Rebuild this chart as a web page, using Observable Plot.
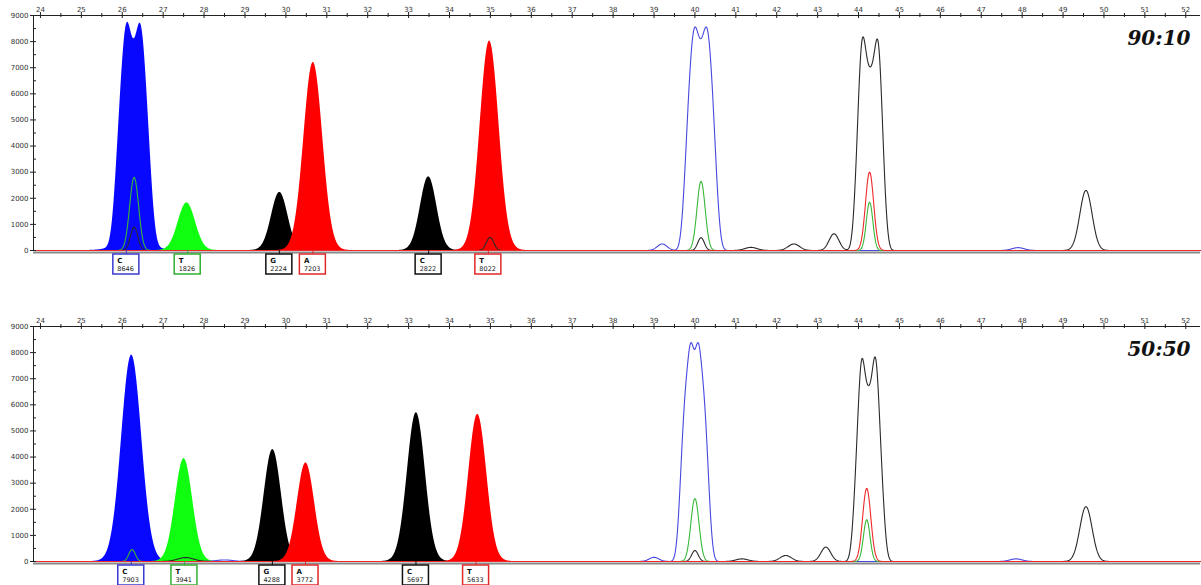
<!DOCTYPE html>
<html><head><meta charset="utf-8">
<script src="https://cdn.jsdelivr.net/npm/d3@7"></script>
<script src="https://cdn.jsdelivr.net/npm/@observablehq/plot@0.6"></script>
<style>
body{margin:0;background:#fff;}
#chart svg{display:block;}
</style>
</head><body><div id="chart"></div>
<script>
// ---- data ----
const xTicks = [24,25,26,27,28,29,30,31,32,33,34,35,36,37,38,39,40,41,42,43,44,45,46,47,48,49,50,51,52];
const yTicks = [0,1000,2000,3000,4000,5000,6000,7000,8000,9000];
const panelLabels = ["90:10", "50:50"];

// peak components: [channel, position, height, width, shape power, filled]
const peaks9010 = [
  ["blue", 26.28, 7000, 0.37, 4, 1],
  ["blue", 26.28, 500, 0.35, 2, 1],
  ["blue", 26.11, 1400, 0.10, 2, 1],
  ["blue", 26.46, 1400, 0.10, 2, 1],
  ["green", 27.58, 1826, 0.21, 2, 1],
  ["black", 29.85, 2224, 0.20, 2, 1],
  ["red", 30.67, 7203, 0.23, 2, 1],
  ["black", 33.49, 2822, 0.20, 2, 1],
  ["red", 34.98, 8022, 0.23, 2, 1],
  ["green", 26.29, 2800, 0.11, 2, 0],
  ["black", 26.29, 900, 0.09, 2, 0],
  ["black", 34.99, 500, 0.09, 2, 0],
  ["blue", 39.2, 250, 0.12, 2, 0],
  ["blue", 40.14, 7700, 0.33, 4, 0],
  ["blue", 39.98, 1000, 0.09, 2, 0],
  ["blue", 40.30, 1000, 0.09, 2, 0],
  ["green", 40.15, 2650, 0.10, 2, 0],
  ["black", 40.15, 490, 0.08, 2, 0],
  ["black", 41.37, 120, 0.15, 2, 0],
  ["black", 42.42, 250, 0.14, 2, 0],
  ["black", 43.4, 640, 0.12, 2, 0],
  ["black", 44.28, 6900, 0.30, 4, 0],
  ["black", 44.08, 1750, 0.08, 2, 0],
  ["black", 44.49, 1750, 0.08, 2, 0],
  ["red", 44.27, 3000, 0.10, 2, 0],
  ["green", 44.27, 1850, 0.08, 2, 0],
  ["blue", 47.9, 110, 0.15, 2, 0],
  ["black", 49.56, 2300, 0.15, 2, 0]
];
const peaks5050 = [
  ["blue", 26.23, 7903, 0.245, 2, 1],
  ["green", 27.51, 3941, 0.21, 2, 1],
  ["black", 29.68, 4288, 0.21, 2, 1],
  ["red", 30.49, 3773, 0.21, 2, 1],
  ["black", 33.19, 5697, 0.22, 2, 1],
  ["red", 34.69, 5633, 0.22, 2, 1],
  ["green", 26.24, 460, 0.08, 2, 0],
  ["black", 27.55, 150, 0.20, 2, 0],
  ["blue", 28.5, 60, 0.20, 2, 0],
  ["blue", 39.0, 160, 0.12, 2, 0],
  ["blue", 39.99, 7600, 0.30, 4, 0],
  ["blue", 39.90, 800, 0.06, 2, 0],
  ["blue", 40.08, 800, 0.06, 2, 0],
  ["green", 40.0, 2410, 0.10, 2, 0],
  ["black", 40.0, 420, 0.08, 2, 0],
  ["black", 41.15, 100, 0.15, 2, 0],
  ["black", 42.22, 230, 0.14, 2, 0],
  ["black", 43.2, 550, 0.12, 2, 0],
  ["black", 44.25, 6600, 0.30, 4, 0],
  ["black", 44.07, 1500, 0.07, 2, 0],
  ["black", 44.42, 1500, 0.07, 2, 0],
  ["red", 44.2, 2800, 0.10, 2, 0],
  ["green", 44.2, 1600, 0.08, 2, 0],
  ["blue", 47.85, 100, 0.15, 2, 0],
  ["black", 49.56, 2100, 0.15, 2, 0]
];
// base calls: [base, value, position, channel]
const calls9010 = [["C",8646,26.10,"blue"],["T",1826,27.60,"green"],["G",2224,29.84,"black"],["A",7203,30.66,"red"],["C",2822,33.49,"black"],["T",8022,34.95,"red"]];
const calls5050 = [["C",7903,26.22,"blue"],["T",3941,27.52,"green"],["G",4288,29.67,"black"],["A",3772,30.48,"red"],["C",5697,33.18,"black"],["T",5633,34.65,"red"]];

// ---- styling ----
const channels = ["blue","green","black","red"];
const fillColor = {blue:"#0808ff", green:"#10ff10", black:"#000000", red:"#ff0000"};
const lineColor = {blue:"#4848e0", green:"#38b838", black:"#2a2a2a", red:"#ee2a2a"};
const boxColor = {blue:"#3a3ad0", green:"#30b030", black:"#111111", red:"#e02828"};
const xDomain = [23.83, 52.36];
const grid = d3.range(xDomain[0], xDomain[1] + 0.005, 0.01);

function traces(peaks) {
  const area = [], line = [];
  for (const ch of channels) {
    const comps = peaks.filter(p => p[0] === ch);
    for (const x of grid) {
      let f = 0, l = 0;
      for (const [, pos, h, w, pw, filled] of comps) {
        const v = h * Math.exp(-0.5 * Math.pow(Math.abs(x - pos) / w, pw));
        if (filled) f += v; else l += v;
      }
      area.push({ch, x, y: f});
      line.push({ch, x, y: l});
    }
  }
  return {area, line};
}

function panel(peaks, calls, label, height, marginBottom) {
  const {area, line} = traces(peaks);
  const callObjs = calls.map(([base, value, pos, ch]) => ({base, value, pos, ch}));
  const xMinor = xTicks.map(t => t + 0.5).filter(t => t < xDomain[1]);
  const yMinor = yTicks.map(t => t + 500).filter(t => t < 9000);
  const x0 = xDomain[0];
  const marks = [
    Plot.ruleY([0], {stroke: "#8a8a8a", strokeWidth: 2, dy: 2}),
    ...channels.map(ch => Plot.areaY(area.filter(d => d.ch === ch), {x: "x", y: "y", fill: fillColor[ch], curve: "linear"})),
    ...channels.map(ch => Plot.lineY(line.filter(d => d.ch === ch), {x: "x", y: "y", stroke: lineColor[ch], strokeWidth: 1.1})),
    // axes lines
    Plot.ruleX([x0], {stroke: "#222", strokeWidth: 1}),
    Plot.ruleY([9000], {stroke: "#222", strokeWidth: 1}),
    // x ticks crossing top axis
    Plot.ruleX(xTicks, {y1: 9000, y2: 9000, insetTop: -3, insetBottom: -3, stroke: "#222"}),
    Plot.ruleX(xMinor, {y1: 9000, y2: 9000, insetTop: -2, insetBottom: -2, stroke: "#222"}),
    // y ticks
    Plot.ruleY(yTicks, {x1: x0, x2: x0, insetLeft: -3, insetRight: -3, stroke: "#222"}),
    Plot.ruleY(yMinor, {x1: x0, x2: x0, insetLeft: 0, insetRight: -3, stroke: "#222"}),
    Plot.axisX({anchor: "top", ticks: xTicks, tickSize: 0, tickPadding: 4, fontSize: 7, tickFormat: d => String(d), fill: "#333", label: null}),
    Plot.axisY({ticks: yTicks, tickSize: 0, tickPadding: 5, fontSize: 7, tickFormat: d => String(d), fill: "#333", label: null}),
    // base call boxes
    Plot.ruleX(callObjs, {x: "pos", y1: 0, y2: 0, insetBottom: -4, stroke: d => boxColor[d.ch], strokeWidth: 1}),
    Plot.rect(callObjs, {x1: "pos", x2: "pos", y1: 0, y2: 0, insetLeft: -13, insetRight: -13, insetTop: 4, insetBottom: -24,
      fill: "white", stroke: d => boxColor[d.ch], strokeWidth: 1.5}),
    Plot.text(callObjs, {x: "pos", y: 0, text: "base", dx: -9, dy: 10, textAnchor: "start", fontSize: 7, fontWeight: "bold", fill: "#111"}),
    Plot.text(callObjs, {x: "pos", y: 0, text: d => String(d.value), dx: -9, dy: 18, textAnchor: "start", fontSize: 6.5, fill: "#222"}),
    // panel label
    Plot.text([label], {frameAnchor: "top-right", dx: -10, dy: 29, lineAnchor: "bottom", fontSize: 20,
      fontFamily: "DejaVu Serif", fontWeight: "bold", fontStyle: "italic", fill: "#111"})
  ];
  return Plot.plot({
    width: 1201, height, marginLeft: 33, marginRight: 1, marginTop: 15, marginBottom,
    style: {fontFamily: "DejaVu Sans", background: "white", overflow: "visible"},
    color: {type: "identity"},
    x: {domain: xDomain, axis: null, label: null},
    y: {domain: [0, 9000], axis: null, label: null},
    marks
  });
}

const root = document.getElementById("chart");
root.appendChild(panel(peaks9010, calls9010, panelLabels[0], 311, 61));
root.appendChild(panel(peaks5050, calls5050, panelLabels[1], 274, 24));
</script>
</body></html>
